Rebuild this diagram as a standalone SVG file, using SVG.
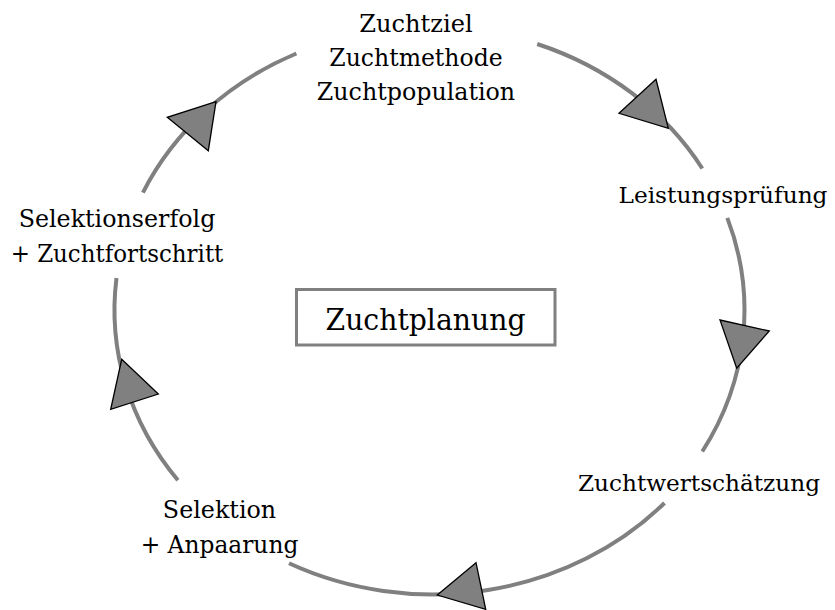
<svg xmlns="http://www.w3.org/2000/svg" width="835" height="610" viewBox="0 0 835 610">
  <style>
    .arc { fill: none; stroke: #808080; stroke-width: 4; }
    .head { fill: #808080; stroke: #000000; stroke-width: 1.3; stroke-linejoin: miter; }
    .box { fill: #ffffff; stroke: #808080; stroke-width: 3; }
    text { font-family: 'DejaVu Serif', 'Liberation Serif', serif; fill: #000000; text-anchor: middle; }
  </style>
  <rect width="835" height="610" fill="#ffffff"/>

  <!-- cycle arcs on ellipse centre (429.5,310), radii 315 x 283 -->
  <g id="connectors">
    <path class="arc" d="M 537.2 44.0 A 315 283 0 0 1 702.3 168.5"/>
    <path class="arc" d="M 727.3 217.9 A 315 283 0 0 1 702.3 451.5"/>
    <path class="arc" d="M 664.5 503.0 A 315 283 0 0 1 289.0 563.3"/>
    <path class="arc" d="M 177.9 480.3 A 315 283 0 0 1 116.5 278.0"/>
    <path class="arc" d="M 142.9 192.6 A 315 283 0 0 1 296.4 53.5"/>
    <polygon class="head" points="656,79.3 619,113.3 668.3,128.3"/>
    <polygon class="head" points="720,320 769.3,331 736.7,368.3"/>
    <polygon class="head" points="476,562.7 437.3,595 485.7,609.3"/>
    <polygon class="head" points="121.7,359.3 158.3,394 110.7,409.3"/>
    <polygon class="head" points="216,101.7 167.3,117.3 208.3,150.7"/>
  </g>

  <g id="zuchtplanung" font-size="30">
    <rect class="box" x="296.5" y="289.5" width="258.5" height="55.5"/>
    <text x="425.5" y="330" textLength="200" lengthAdjust="spacingAndGlyphs">Zuchtplanung</text>
  </g>

  <g id="zuchtziel" font-size="25">
    <text x="416" y="31.7" textLength="113.3" lengthAdjust="spacingAndGlyphs">Zuchtziel</text>
    <text x="416" y="66" textLength="173.3" lengthAdjust="spacingAndGlyphs">Zuchtmethode</text>
    <text x="416" y="100" textLength="198.3" lengthAdjust="spacingAndGlyphs">Zuchtpopulation</text>
  </g>

  <g id="leistungspruefung" font-size="23">
    <text x="723" y="203.3" textLength="209" lengthAdjust="spacingAndGlyphs">Leistungsprüfung</text>
  </g>

  <g id="zuchtwertschaetzung" font-size="23">
    <text x="699" y="491" textLength="242" lengthAdjust="spacingAndGlyphs">Zuchtwertschätzung</text>
  </g>

  <g id="selektion" font-size="25">
    <text x="219.5" y="517.5" textLength="113.3" lengthAdjust="spacingAndGlyphs">Selektion</text>
    <text x="219.5" y="552.5" textLength="157.7" lengthAdjust="spacingAndGlyphs">+ Anpaarung</text>
  </g>

  <g id="selektionserfolg" font-size="25">
    <text x="117" y="226.7" textLength="196.7" lengthAdjust="spacingAndGlyphs">Selektionserfolg</text>
    <text x="117" y="261.7" textLength="212.7" lengthAdjust="spacingAndGlyphs">+ Zuchtfortschritt</text>
  </g>
</svg>
